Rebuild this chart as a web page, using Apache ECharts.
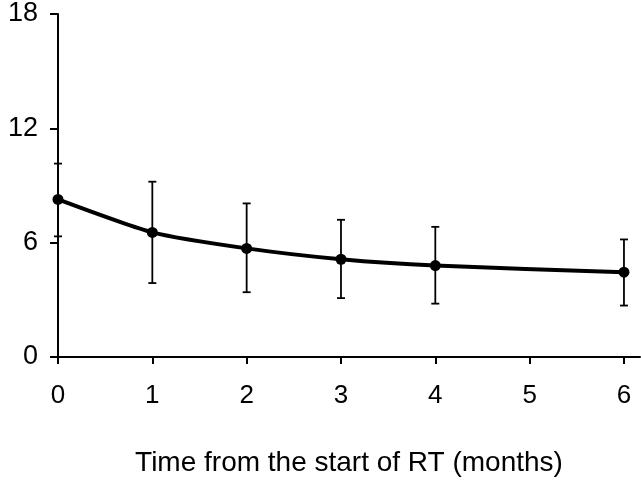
<!DOCTYPE html>
<html>
<head>
<meta charset="utf-8">
<script src="https://cdn.jsdelivr.net/npm/echarts@6/dist/echarts.min.js"></script>
<style>
  html, body { margin: 0; padding: 0; background: #fff; }
  #chart { width: 641px; height: 482px; }
</style>
</head>
<body>
<div id="chart"></div>
<script>
// months from start of RT
const months = [0, 1, 2, 3, 4, 6];
const meanValues = [8.27, 6.54, 5.7, 5.13, 4.8, 4.45];
const upperValues = [10.15, 9.2, 8.06, 7.2, 6.83, 6.17];
const lowerValues = [6.33, 3.88, 3.4, 3.09, 2.8, 2.7];
const xTicks = [0, 1, 2, 3, 4, 5, 6];
const yTicks = [0, 6, 12, 18];

const font = "Liberation Sans, Arial, sans-serif";

const chart = echarts.init(document.getElementById("chart"));

chart.setOption({
  animation: false,
  grid: { left: 58, right: 1, top: 14, bottom: 124 },
  xAxis: {
    type: "value",
    min: 0,
    max: 6.17,
    interval: 1,
    name: "Time from the start of RT (months)",
    nameLocation: "middle",
    nameGap: 92,
    nameTextStyle: { color: "#000", fontSize: 28, fontFamily: font },
    splitLine: { show: false },
    axisLine: { onZero: false, lineStyle: { color: "#000", width: 2 } },
    axisTick: { length: 7, lineStyle: { color: "#000", width: 2 }, customValues: xTicks },
    axisLabel: { color: "#000", fontSize: 26, fontFamily: font, margin: 26, customValues: xTicks }
  },
  yAxis: {
    type: "value",
    min: 0,
    max: 18,
    interval: 6,
    splitLine: { show: false },
    axisLine: { show: true, lineStyle: { color: "#000", width: 2 } },
    axisTick: { show: true, length: 8, lineStyle: { color: "#000", width: 2 }, customValues: yTicks },
    axisLabel: { color: "#000", fontSize: 27, fontFamily: font, margin: 20, customValues: yTicks }
  },
  series: [
    {
      type: "custom",
      data: months.map((m, i) => [m, lowerValues[i], upperValues[i]]),
      renderItem: function (params, api) {
        const lo = api.coord([api.value(0), api.value(1)]);
        const hi = api.coord([api.value(0), api.value(2)]);
        const cap = 4;
        const style = { stroke: "#000", lineWidth: 1.8 };
        return {
          type: "group",
          children: [
            { type: "line", shape: { x1: hi[0], y1: hi[1], x2: lo[0], y2: lo[1] }, style: style },
            { type: "line", shape: { x1: hi[0] - cap, y1: hi[1], x2: hi[0] + cap, y2: hi[1] }, style: style },
            { type: "line", shape: { x1: lo[0] - cap, y1: lo[1], x2: lo[0] + cap, y2: lo[1] }, style: style }
          ]
        };
      },
      z: 2
    },
    {
      type: "line",
      data: months.map((m, i) => [m, meanValues[i]]),
      smooth: 0.2,
      symbol: "circle",
      symbolSize: 11,
      lineStyle: { color: "#000", width: 4 },
      itemStyle: { color: "#000" },
      z: 3
    }
  ]
});
</script>
</body>
</html>
